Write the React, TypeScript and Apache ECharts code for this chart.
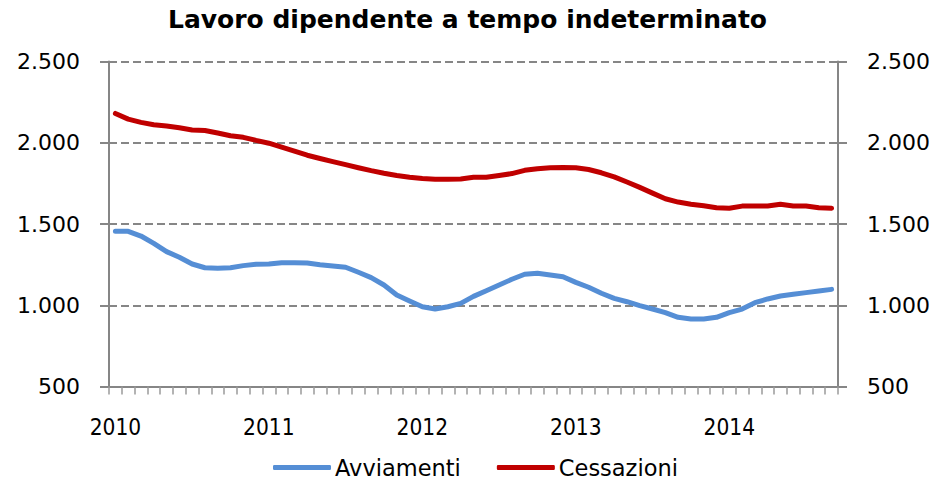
import React, { useEffect, useRef } from "react";
import * as echarts from "echarts";

const TITLE = "Lavoro dipendente a tempo indeterminato";
const YEARS = ["2010", "2011", "2012", "2013", "2014"];
const LAST_YEAR_MONTHS = 9;
const SERIES_NAMES = ["Avviamenti", "Cessazioni"];

const avviamenti = [
  1455, 1455, 1426, 1381, 1330, 1295, 1254, 1231, 1228, 1231,
  1244, 1252, 1254, 1262, 1262, 1260, 1250, 1242, 1234, 1203,
  1170, 1125, 1063, 1026, 991, 977, 991, 1012, 1055, 1090,
  1125, 1160, 1191, 1197, 1186, 1176, 1141, 1111, 1074, 1043,
  1022, 998, 977, 955, 926, 916, 916, 926, 955, 977,
  1016, 1039, 1057, 1068, 1078, 1088, 1098,
];

const cessazioni = [
  2180, 2145, 2125, 2110, 2103, 2092, 2078, 2075, 2060, 2043,
  2033, 2014, 1997, 1973, 1948, 1923, 1903, 1884, 1865, 1846,
  1828, 1812, 1798, 1788, 1780, 1775, 1775, 1777, 1787, 1787,
  1798, 1810, 1830, 1840, 1846, 1848, 1846, 1835, 1815, 1790,
  1758, 1725, 1690, 1655, 1635, 1622, 1612, 1600, 1597, 1610,
  1611, 1611, 1622, 1611, 1611, 1600, 1597,
];

const Y_MIN = 500;
const Y_MAX = 2500;
const Y_STEP = 500;

const categories: string[] = [];
YEARS.forEach((y, yi) => {
  const n = yi === YEARS.length - 1 ? LAST_YEAR_MONTHS : 12;
  for (let m = 1; m <= n; m++) categories.push(`${y}-${String(m).padStart(2, "0")}`);
});

const fmt = (v: number) => String(v).replace(/\B(?=(\d{3})+(?!\d))/g, ".");

const GRAY = "#868686";
const FONT = "'DejaVu Sans', sans-serif";
const FONT_COND = "'DejaVu Sans Condensed', 'DejaVu Sans', sans-serif";

export default function App() {
  const ref = useRef<HTMLDivElement>(null);
  useEffect(() => {
    if (!ref.current) return;
    const chart = echarts.init(ref.current, null, { renderer: "svg" });
    const baseY = {
      type: "value" as const,
      min: Y_MIN,
      max: Y_MAX,
      interval: Y_STEP,
    };
    chart.setOption({
      animation: false,
      backgroundColor: "#ffffff",
      title: {
        text: TITLE,
        left: "center",
        top: 7,
        padding: 0,
        textStyle: { fontFamily: FONT, fontWeight: "bold", fontSize: 25, color: "#000" },
      },
      legend: {
        data: SERIES_NAMES,
        left: 273,
        top: 456,
        padding: 0,
        icon: "roundRect",
        itemWidth: 58,
        itemHeight: 5,
        itemGap: 36,
        textStyle: { fontFamily: FONT, fontSize: 22.5, color: "#000", padding: [0, 0, 0, -1] },
      },
      grid: { left: 109, right: 97, top: 61.4, bottom: 94.4, containLabel: false },
      xAxis: {
        type: "category",
        data: categories,
        boundaryGap: true,
        axisLine: { show: true, lineStyle: { color: GRAY, width: 2 } },
        axisTick: { show: true, interval: 0, length: 8, lineStyle: { color: "#9a9a9a", width: 1.5 } },
        axisLabel: {
          interval: 11,
          margin: 29,
          formatter: (v: string) => v.slice(0, 4),
          fontFamily: FONT_COND,
          fontSize: 22.5,
          color: "#000",
        },
        splitLine: { show: false },
      },
      yAxis: [
        {
          ...baseY,
          position: "left",
          axisLine: { show: true, lineStyle: { color: GRAY, width: 2 } },
          axisTick: { show: true, length: 9, lineStyle: { color: GRAY, width: 2 } },
          axisLabel: { margin: 29, formatter: fmt, fontFamily: FONT, fontSize: 22, color: "#000" },
          splitLine: { show: true, lineStyle: { color: GRAY, width: 2, type: [8, 4] } },
        },
        {
          ...baseY,
          position: "right",
          axisLine: { show: true, lineStyle: { color: GRAY, width: 2 } },
          axisTick: { show: true, length: 9, lineStyle: { color: GRAY, width: 2 } },
          axisLabel: { margin: 29, formatter: fmt, fontFamily: FONT, fontSize: 22, color: "#000" },
          splitLine: { show: false },
        },
        {
          ...baseY,
          position: "left",
          axisLine: { show: false },
          axisTick: { show: true, inside: true, length: 8, lineStyle: { color: GRAY, width: 2 } },
          axisLabel: { show: false },
          splitLine: { show: false },
        },
        {
          ...baseY,
          position: "right",
          axisLine: { show: false },
          axisTick: { show: true, inside: true, length: 8, lineStyle: { color: GRAY, width: 2 } },
          axisLabel: { show: false },
          splitLine: { show: false },
        },
      ],
      series: [
        {
          name: SERIES_NAMES[0],
          type: "line",
          data: avviamenti,
          yAxisIndex: 0,
          symbol: "none",
          color: "#558ED5",
          lineStyle: { color: "#558ED5", width: 5, cap: "round", join: "round" },
        },
        {
          name: SERIES_NAMES[1],
          type: "line",
          data: cessazioni,
          yAxisIndex: 0,
          symbol: "none",
          color: "#C00000",
          lineStyle: { color: "#C00000", width: 5, cap: "round", join: "round" },
        },
      ],
    });
    return () => chart.dispose();
  }, []);
  return (
    <div
      ref={ref}
      style={{ position: "fixed", left: 0, top: 0, width: 935, height: 481, background: "#fff" }}
    />
  );
}
